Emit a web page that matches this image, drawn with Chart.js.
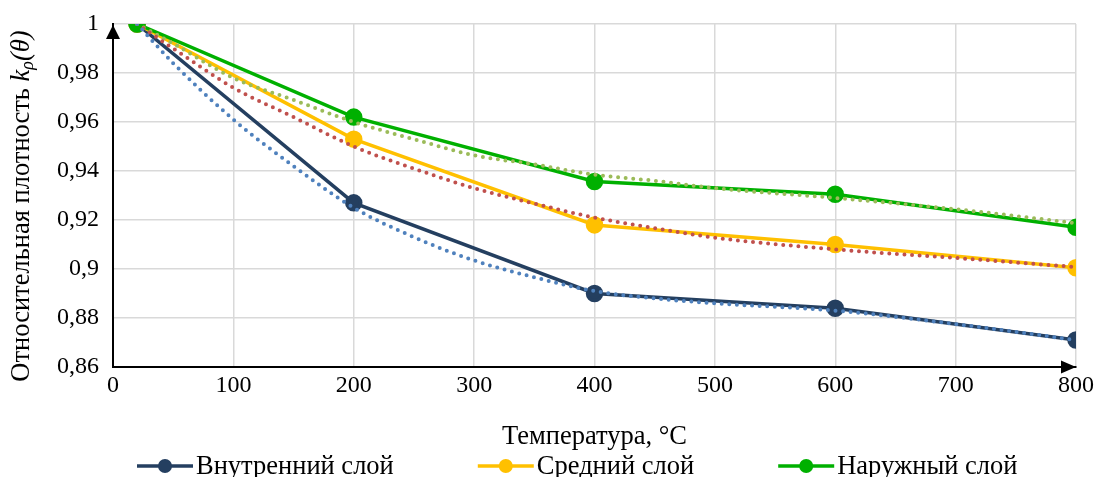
<!DOCTYPE html>
<html lang="ru">
<head>
  <meta charset="UTF-8" />
  <title>Относительная плотность</title>
  <script src="https://cdn.jsdelivr.net/npm/chart.js"></script>
  <style>
    html, body { margin: 0; padding: 0; background: #fff; }
    #wrap { width: 1099px; height: 477px; position: relative; }
  </style>
</head>
<body>
  <div id="wrap"><canvas id="grafico"></canvas></div>

  <script>
    // measured points
    const temps = [20, 200, 400, 600, 800];
    const innerLayer = [1, 0.927, 0.89, 0.884, 0.871];
    const middleLayer = [1, 0.953, 0.918, 0.910, 0.9005];
    const outerLayer = [1, 0.962, 0.9357, 0.9305, 0.917];

    // dotted trend lines
    const trendTemps = [20, 50, 100, 150, 200, 250, 300, 350, 400, 450, 500, 600, 700, 800];
    const innerTrend = [1, 0.984, 0.961, 0.942, 0.925, 0.913, 0.9035, 0.8966, 0.891, 0.888, 0.886, 0.883, 0.8775, 0.871];
    const middleTrend = [1, 0.990, 0.974, 0.962, 0.950, 0.941, 0.933, 0.9267, 0.921, 0.9167, 0.9128, 0.908, 0.9045, 0.9008];
    const outerTrend = [1, 0.992, 0.978, 0.969, 0.960, 0.953, 0.9464, 0.9427, 0.9385, 0.936, 0.933, 0.929, 0.9244, 0.9187];

    const seriesNames = ["Внутренний слой", "Средний слой", "Наружный слой"];
    const xTitle = "Температура, °C";

    const serif = "'Liberation Serif', 'Times New Roman', serif";
    const pts = (xs, ys) => xs.map((x, i) => ({ x: x, y: ys[i] }));

    const solid = (label, data, color, order) => ({
      label: label,
      data: pts(temps, data),
      borderColor: color,
      backgroundColor: color,
      borderWidth: 3.5,
      pointRadius: 7,
      pointHoverRadius: 7,
      showLine: true,
      order: order,
    });

    const dotted = (data, color) => ({
      label: "trend",
      data: pts(trendTemps, data),
      borderColor: color,
      borderWidth: 4,
      borderDash: [0, 7.6],
      borderCapStyle: "round",
      pointRadius: 0,
      showLine: true,
      cubicInterpolationMode: "monotone",
      order: 1,
    });

    // y title with italic k, subscript rho and (theta)
    const yTitlePlugin = {
      id: "yTitle",
      afterDraw(chart) {
        const ctx = chart.ctx;
        const parts = [
          { t: "Относительная плотность ", f: "26.5px " + serif, dy: 0 },
          { t: "k", f: "italic 26.5px " + serif, dy: 0 },
          { t: "ρ", f: "italic 18px " + serif, dy: 6 },
          { t: "(θ)", f: "italic 26.5px " + serif, dy: 0 },
        ];
        let total = 0;
        parts.forEach((p) => { ctx.font = p.f; p.w = ctx.measureText(p.t).width; total += p.w; });
        ctx.save();
        ctx.translate(22, 206);
        ctx.rotate(-Math.PI / 2);
        ctx.fillStyle = "#000";
        ctx.textBaseline = "middle";
        let x = -total / 2;
        parts.forEach((p) => {
          ctx.font = p.f;
          ctx.fillText(p.t, x, p.dy);
          x += p.w;
        });
        ctx.restore();
      },
    };

    // axis arrows and legend along the bottom
    const extrasPlugin = {
      id: "extras",
      afterDraw(chart) {
        const ctx = chart.ctx;
        const a = chart.chartArea;
        ctx.save();
        ctx.fillStyle = "#000";
        ctx.beginPath();
        ctx.moveTo(a.left, a.top + 1);
        ctx.lineTo(a.left - 7, a.top + 15);
        ctx.lineTo(a.left + 7, a.top + 15);
        ctx.closePath();
        ctx.fill();
        ctx.beginPath();
        ctx.moveTo(a.right, a.bottom);
        ctx.lineTo(a.right - 15, a.bottom - 6.5);
        ctx.lineTo(a.right - 15, a.bottom + 6.5);
        ctx.closePath();
        ctx.fill();

        // legend
        ctx.font = "26.5px " + serif;
        ctx.textBaseline = "middle";
        let x = 137;
        const y = 466;
        for (let i = 0; i < 3; i++) {
          const ds = chart.data.datasets[i];
          ctx.strokeStyle = ds.borderColor;
          ctx.lineWidth = 3.5;
          ctx.beginPath();
          ctx.moveTo(x, y);
          ctx.lineTo(x + 56, y);
          ctx.stroke();
          ctx.fillStyle = ds.borderColor;
          ctx.beginPath();
          ctx.arc(x + 28, y, 7, 0, Math.PI * 2);
          ctx.fill();
          ctx.fillStyle = "#000";
          ctx.fillText(ds.label, x + 59, y + 1);
          x += 59 + ctx.measureText(ds.label).width + 84;
        }
        ctx.restore();
      },
    };

    new Chart(document.getElementById("grafico"), {
      type: "scatter",
      data: {
        datasets: [
          solid(seriesNames[0], innerLayer, "#243f60", 4),
          solid(seriesNames[1], middleLayer, "#ffc000", 3),
          solid(seriesNames[2], outerLayer, "#00b000", 2),
          dotted(innerTrend, "#4f81bd"),
          dotted(middleTrend, "#c0504d"),
          dotted(outerTrend, "#9bbb59"),
        ],
      },
      options: {
        responsive: true,
        maintainAspectRatio: false,
        animation: false,
        layout: { padding: { left: 0, right: 23, top: 24, bottom: 24 } },
        scales: {
          x: {
            min: 0,
            max: 800,
            ticks: { stepSize: 100, color: "#000", font: { family: serif, size: 24 }, padding: 4, maxRotation: 0 },
            grid: { color: "#d9d9d9", lineWidth: 1.5, drawTicks: false },
            border: { color: "#000", width: 2 },
            title: { display: true, text: xTitle, color: "#000", font: { family: serif, size: 26.5 }, padding: 0 },
            afterFit(scale) {
              scale.height = 86;
              scale.paddingLeft = 0;
              scale.paddingRight = 0;
            },
          },
          y: {
            min: 0.86,
            max: 1,
            ticks: {
              stepSize: 0.02,
              color: "#000",
              font: { family: serif, size: 24 },
              padding: 14,
              callback: (v) => String(Math.round(v * 100) / 100).replace(".", ","),
            },
            grid: { color: "#d9d9d9", lineWidth: 1.5, drawTicks: false },
            border: { color: "#000", width: 2 },
            afterFit(scale) {
              scale.width = 113;
              scale.paddingTop = 0;
              scale.paddingBottom = 0;
            },
          },
        },
        plugins: {
          legend: { display: false },
          tooltip: { enabled: false },
        },
      },
      plugins: [yTitlePlugin, extrasPlugin],
    });
  </script>
</body>
</html>
